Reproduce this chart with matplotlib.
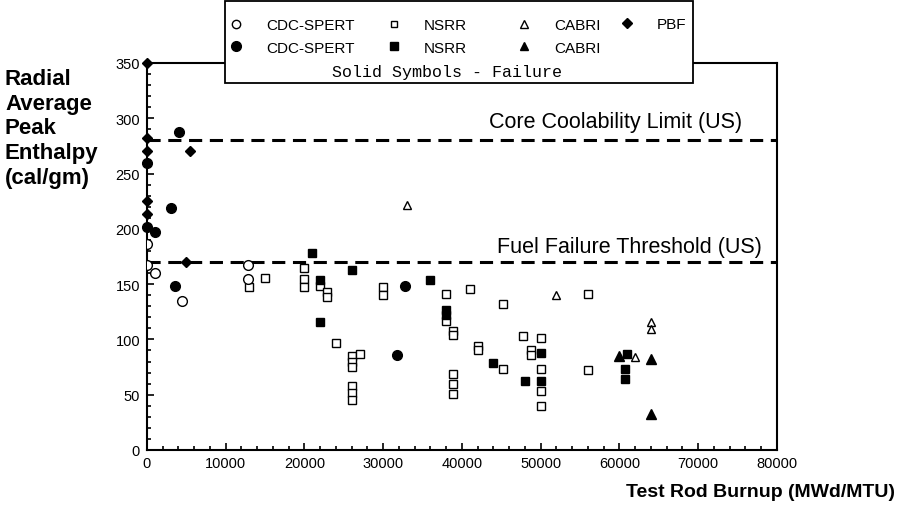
import matplotlib
matplotlib.use("Agg")
import matplotlib.pyplot as plt
from matplotlib.lines import Line2D
from matplotlib.patches import Rectangle
from matplotlib.ticker import MultipleLocator

plt.rcParams['font.family'] = ['Liberation Sans', 'DejaVu Sans']

# ---------------- data (burnup MWd/MTU, enthalpy cal/gm) ----------------
cdc_open_x = [0, 0, 1000, 4500, 12800, 12800]
cdc_open_y = [186, 167, 160, 135, 167, 155]

cdc_fail_x = [0, 0, 1000, 3100, 3500, 4100, 31800, 32700]
cdc_fail_y = [260, 202, 197, 219, 148, 288, 86, 148]

pbf_x = [0, 0, 0, 0, 0, 5500, 5000]
pbf_y = [350, 282, 270, 225, 213, 270, 170]

nsrr_open_x = [12900, 15000, 20000, 20000, 20000, 22000, 22900, 22900, 24000,
               26000, 26000, 26000, 26000, 26000, 26000, 27000, 30000, 30000,
               38000, 38000, 38900, 38900, 38900, 38900, 38900, 41000, 42000,
               42000, 45200, 45200, 47800, 48800, 48800, 50000, 50000, 50000,
               50000, 56000, 56000]
nsrr_open_y = [147, 156, 165, 155, 147, 148, 143, 138, 97,
               85, 80, 75, 58, 52, 45, 87, 147, 140,
               141, 117, 108, 104, 69, 60, 51, 146, 94,
               90, 132, 73, 103, 90, 86, 101, 73, 53,
               40, 141, 72]

nsrr_fail_x = [21000, 22000, 22000, 26000, 36000, 38000, 38000, 44000, 48000,
               50000, 50000, 61000, 60700, 60700]
nsrr_fail_y = [178, 154, 116, 163, 154, 127, 122, 79, 62,
               88, 62, 87, 73, 64]

cabri_open_x = [33000, 52000, 62000, 64000, 64000]
cabri_open_y = [222, 140, 84, 116, 109]

cabri_fail_x = [60000, 64000, 64000]
cabri_fail_y = [85, 82, 33]

limit_values = [280, 170]
limit_labels = ["Core Coolability Limit (US)", "Fuel Failure Threshold (US)"]
limit_label_x = [59500, 61300]
limit_label_y = [297, 184]

legend_labels = ["CDC-SPERT", "NSRR", "CABRI", "PBF"]

# ---------------- figure ----------------
W, H = 904, 506
fig = plt.figure(figsize=(W / 100, H / 100), dpi=100)
ax = fig.add_axes([147 / W, 1 - 451 / H, 630 / W, 387 / H])

ax.set_xlim(0, 80000)
ax.set_ylim(0, 350)

ms_c = 7.0
ms_s = 5.5
ms_t = 6.0
ms_d = 6.5
mew = 1.0

ax.plot(nsrr_open_x, nsrr_open_y, ls='none', marker='s', ms=ms_s, mfc='white',
        mec='black', mew=mew, zorder=3)
ax.plot(cdc_open_x, cdc_open_y, ls='none', marker='o', ms=ms_c, mfc='white',
        mec='black', mew=mew, zorder=3)
ax.plot(cabri_open_x, cabri_open_y, ls='none', marker='^', ms=ms_t, mfc='white',
        mec='black', mew=mew, zorder=3)
ax.plot(cdc_fail_x, cdc_fail_y, ls='none', marker='o', ms=ms_c, mfc='black',
        mec='black', mew=mew, zorder=4, clip_on=False)
ax.plot(nsrr_fail_x, nsrr_fail_y, ls='none', marker='s', ms=ms_s + 0.5, mfc='black',
        mec='black', mew=mew, zorder=4)
ax.plot(cabri_fail_x, cabri_fail_y, ls='none', marker='^', ms=ms_t + 0.5, mfc='black',
        mec='black', mew=mew, zorder=4)
ax.plot(pbf_x, pbf_y, ls='none', marker='D', ms=ms_d - 1.5, mfc='black',
        mec='black', mew=mew, zorder=4, clip_on=False)

for v, lab, lx, ly in zip(limit_values, limit_labels, limit_label_x, limit_label_y):
    ax.axhline(v, color='black', lw=2.2, dashes=(4.3, 2.5), zorder=2)
    ax.text(lx, ly, lab, ha='center', va='center', fontsize=15.5, color='black')

# ticks
ax.xaxis.set_major_locator(MultipleLocator(10000))
ax.xaxis.set_minor_locator(MultipleLocator(2000))
ax.yaxis.set_major_locator(MultipleLocator(50))
ax.yaxis.set_minor_locator(MultipleLocator(10))
ax.tick_params(which='both', direction='in', top=False, right=False,
               labelsize=10.5, width=1.2, colors='black')
ax.tick_params(which='major', length=5)
ax.tick_params(which='minor', length=3)
ax.tick_params(axis='x', pad=4)
ax.tick_params(axis='y', pad=5)
for sp in ax.spines.values():
    sp.set_linewidth(1.5)
    sp.set_color('black')

# axis labels
fig.text(5 / W, 1 - 129 / H, "Radial\nAverage\nPeak\nEnthalpy\n(cal/gm)",
         ha='left', va='center', fontsize=16, fontweight='bold', linespacing=1.22)
fig.text(895 / W, 1 - 493 / H, "Test Rod Burnup (MWd/MTU)", ha='right',
         va='center', fontsize=14, fontweight='bold')

# legend box
fig.patches.append(Rectangle((225 / W, 1 - 84 / H), 468 / W, 82 / H,
                             transform=fig.transFigure, fill=True, fc='white',
                             ec='black', lw=1.3, zorder=5))

fs = 11
hl = 1.0
half = hl * fs / 72 * 100 / 2
col_mx = [236, 394, 524, 627]
open_h = [
    Line2D([], [], ls='none', marker='o', ms=6, mfc='white', mec='black', mew=1),
    Line2D([], [], ls='none', marker='s', ms=5, mfc='white', mec='black', mew=1),
    Line2D([], [], ls='none', marker='^', ms=5.5, mfc='white', mec='black', mew=1),
    Line2D([], [], ls='none', marker='D', ms=5, mfc='black', mec='black', mew=1),
]
fail_h = [
    Line2D([], [], ls='none', marker='o', ms=7, mfc='black', mec='black', mew=1),
    Line2D([], [], ls='none', marker='s', ms=5.5, mfc='black', mec='black', mew=1),
    Line2D([], [], ls='none', marker='^', ms=6, mfc='black', mec='black', mew=1),
]
for i in range(4):
    if i < 3:
        hs = [open_h[i], fail_h[i]]
        labs = [legend_labels[i], legend_labels[i]]
        yc = 37.5
    else:
        hs = [open_h[i]]
        labs = [legend_labels[i]]
        yc = 25
    leg = fig.legend(hs, labs, loc='center left',
                     bbox_to_anchor=((col_mx[i] - half) / W, 1 - yc / H),
                     frameon=False, fontsize=fs, handlelength=hl,
                     handletextpad=1.45, borderpad=0, borderaxespad=0,
                     labelspacing=0.55)
    leg.set_zorder(6)

fig.text(447 / W, 1 - 72 / H, "Solid Symbols - Failure", ha='center',
         va='center', fontsize=12, family=['Liberation Mono', 'DejaVu Sans Mono'],
         zorder=6)

fig.savefig("out.png", dpi=100)
